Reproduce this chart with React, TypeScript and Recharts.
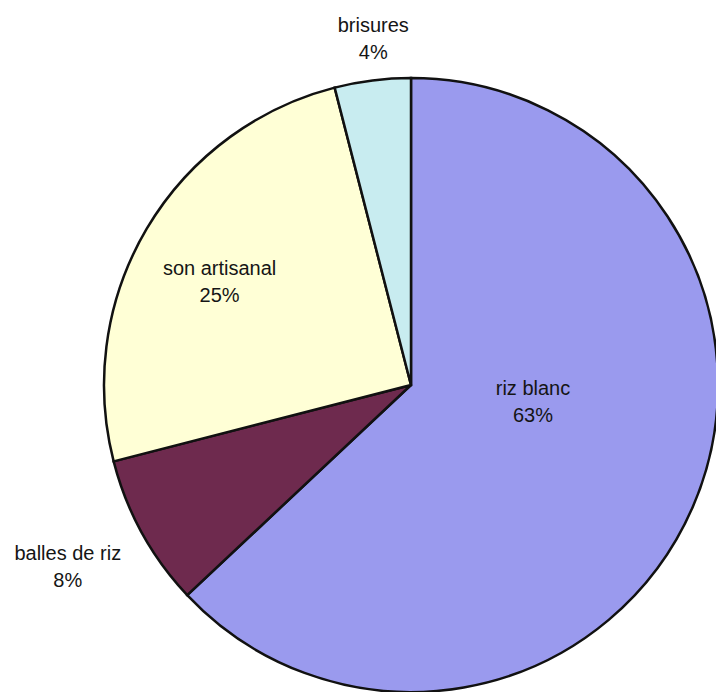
import { PieChart, Pie, Cell } from 'recharts';

const categories = ['riz blanc', 'balles de riz', 'son artisanal', 'brisures'];
const shares = [63, 8, 25, 4];

const COLORS = ['#9a9aee', '#6e2a4e', '#ffffd6', '#c8ecf0'];

// label distance (px from centre) and angle tweak (deg) per slice
const LABEL_POS: Record<string, { r: number; da: number }> = {
  'riz blanc': { r: 123, da: 16 },
  'balles de riz': { r: 388, da: -1 },
  'son artisanal': { r: 218, da: 2 },
  brisures: { r: 349, da: -1 },
};

const data = categories.map((name, i) => ({ name, value: shares[i] }));

const RADIAN = Math.PI / 180;

const renderLabel = (props: any) => {
  const { cx, cy, midAngle, name, value } = props;
  const pos = LABEL_POS[name] || { r: 200, da: 0 };
  const a = (midAngle + pos.da) * RADIAN;
  const x = cx + pos.r * Math.cos(a);
  const y = cy - pos.r * Math.sin(a);
  return (
    <text
      x={x}
      y={y}
      textAnchor="middle"
      fill="#151515"
      style={{ fontFamily: 'Liberation Sans, Arial, sans-serif', fontSize: 20 }}
    >
      <tspan x={x} dy={-6}>{name}</tspan>
      <tspan x={x} dy={27}>{`${value}%`}</tspan>
    </text>
  );
};

export default function App() {
  return (
    <div style={{ position: 'fixed', top: 0, left: 0, width: 716, height: 692, background: '#fff' }}>
      <PieChart width={716} height={692} margin={{ top: 0, right: 0, bottom: 0, left: 0 }}>
        <Pie
          data={data}
          dataKey="value"
          nameKey="name"
          cx={411}
          cy={385}
          outerRadius={307}
          startAngle={90}
          endAngle={-270}
          stroke="#111"
          strokeWidth={2.5}
          label={renderLabel}
          labelLine={false}
          isAnimationActive={false}
        >
          {data.map((d, i) => (
            <Cell key={d.name} fill={COLORS[i]} />
          ))}
        </Pie>
      </PieChart>
    </div>
  );
}
